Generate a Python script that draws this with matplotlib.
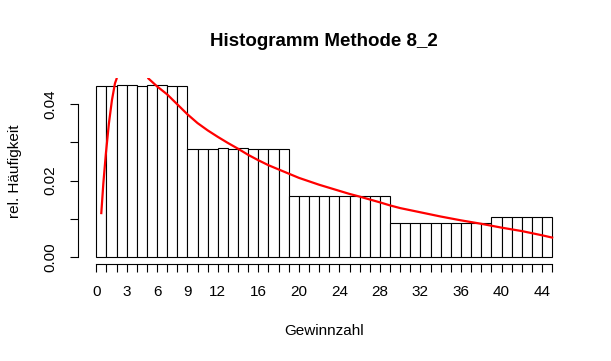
import numpy as np
import matplotlib
matplotlib.use("Agg")
import matplotlib.pyplot as plt

plt.rcParams["font.family"] = ["Liberation Sans", "DejaVu Sans"]

# bar heights (relative frequency), one bar per unit from 0 to 45
bin_left = list(range(0, 45))
freq = ([0.04464, 0.04464, 0.0449, 0.0449, 0.04464, 0.0449, 0.0449, 0.04464, 0.04464]
        + [0.02836, 0.02836, 0.02836, 0.02862, 0.02836, 0.02862, 0.02836, 0.02836, 0.02836, 0.02836]
        + [0.0160] * 10
        + [0.00893] * 10
        + [0.01048] * 6)

# red fitted curve
curve_x = [0.5, 0.7, 0.95, 1.25, 1.55, 1.85, 2.0, 2.5, 3.0, 3.5, 4.0, 4.5, 5.13,
           6, 7, 8, 9, 10, 11, 12, 13, 14, 15, 16, 17, 18, 19, 20, 22, 24, 25,
           26, 28, 29, 30, 32, 34, 36, 38, 40, 42, 44, 45]
curve_y = [0.0115, 0.0192, 0.0270, 0.0349, 0.0410, 0.0454, 0.0465, 0.052, 0.055, 0.056, 0.055, 0.052, 0.0467,
           0.0446, 0.0425, 0.0399, 0.0373, 0.0350, 0.0331, 0.0314, 0.0298, 0.0283, 0.0267, 0.0253, 0.0240,
           0.0229, 0.0218, 0.0207, 0.0189, 0.0173, 0.0165, 0.0158, 0.0143, 0.0135, 0.0128, 0.0117, 0.0106,
           0.0096, 0.0087, 0.0077, 0.0068, 0.0057, 0.0051]

xticks = list(range(0, 46))
xtick_labels = {0: "0", 3: "3", 6: "6", 9: "9", 12: "12", 16: "16", 20: "20",
                24: "24", 28: "28", 32: "32", 36: "36", 40: "40", 44: "44"}
yticks = [0.0, 0.01, 0.02, 0.03, 0.04]
ytick_labels = ["0.00", "", "0.02", "", "0.04"]

W, H = 611, 361
fig = plt.figure(figsize=(W / 100, H / 100), dpi=100)
ax = fig.add_axes([78 / W, 1 - 264 / H, (570.4 - 78) / W, (264 - 78.3) / H])

ax.bar(bin_left, freq, width=1, align="edge", color="white",
       edgecolor="black", linewidth=0.8)
ax.plot(curve_x, curve_y, color="red", linewidth=1.6)

ax.set_xlim(-1.8, 46.8)
ax.set_ylim(-0.0018, 0.0467)

for s in ["top", "right"]:
    ax.spines[s].set_visible(False)
ax.spines["left"].set_bounds(0, 0.04)
ax.spines["bottom"].set_bounds(0, 45)
for s in ["left", "bottom"]:
    ax.spines[s].set_linewidth(0.8)

ax.set_xticks(xticks)
ax.set_xticklabels([xtick_labels.get(t, "") for t in xticks])
ax.set_yticks(yticks)
ax.set_yticklabels(ytick_labels)
ax.tick_params(axis="both", length=5.5, width=0.8, labelsize=11)
ax.tick_params(axis="x", pad=9.5)
ax.tick_params(axis="y", pad=9, labelrotation=90)
for lab in ax.get_yticklabels():
    lab.set_va("center")
    lab.set_ha("right")

fig.text(324 / W, 1 - 41 / H, "Histogramm Methode 8_2", ha="center", va="center",
         fontsize=13.5, fontweight="bold")
fig.text(324 / W, 1 - 331 / H, "Gewinnzahl", ha="center", va="center", fontsize=11)
fig.text(15 / W, 1 - 171 / H, "rel. Häufigkeit", ha="center", va="center",
         rotation=90, fontsize=11)

fig.savefig("out.png", dpi=100)
